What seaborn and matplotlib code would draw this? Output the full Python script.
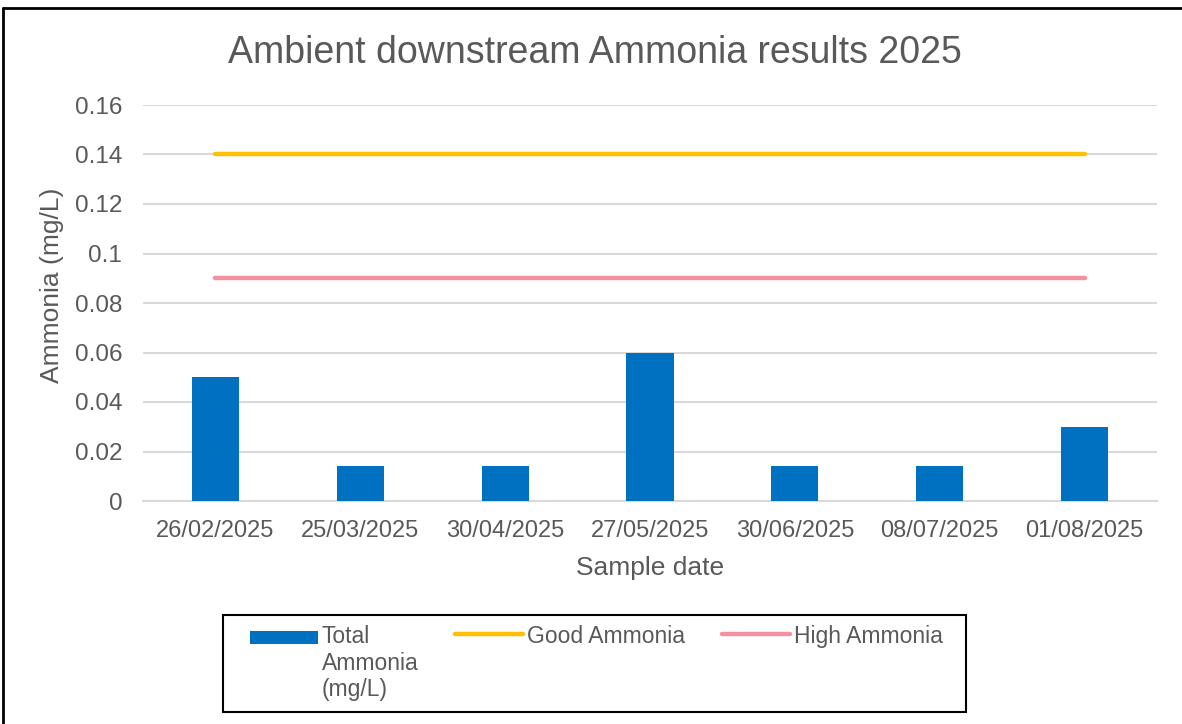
import numpy as np
import pandas as pd
import matplotlib
matplotlib.use("Agg")
import matplotlib.pyplot as plt
import seaborn as sns
from matplotlib.lines import Line2D
from matplotlib.patches import Patch, Rectangle
from matplotlib.legend_handler import HandlerPatch

# ---- data ----
dates = ["26/02/2025", "25/03/2025", "30/04/2025", "27/05/2025",
         "30/06/2025", "08/07/2025", "01/08/2025"]
total_ammonia = [0.05, 0.014, 0.014, 0.06, 0.014, 0.014, 0.03]
good_ammonia = [0.14, 0.14, 0.14, 0.14, 0.14, 0.14, 0.14]
high_ammonia = [0.09, 0.09, 0.09, 0.09, 0.09, 0.09, 0.09]
y_ticks = [0, 0.02, 0.04, 0.06, 0.08, 0.1, 0.12, 0.14, 0.16]
y_tick_labels = ["0", "0.02", "0.04", "0.06", "0.08", "0.1", "0.12", "0.14", "0.16"]

title = "Ambient downstream Ammonia results 2025"
xlabel = "Sample date"
ylabel = "Ammonia (mg/L)"
legend_labels = ["Total\nAmmonia\n(mg/L)", "Good Ammonia", "High Ammonia"]

df = pd.DataFrame({"date": dates, "total": total_ammonia,
                   "good": good_ammonia, "high": high_ammonia})

sns.set_theme(style="white")
plt.rcParams["font.family"] = ["Liberation Sans", "DejaVu Sans"]

TXT = "#595959"
GRID = "#d9d9d9"
BAR = "#0070c0"
GOOD = "#ffc000"
HIGH = "#f4909f"

fig = plt.figure(figsize=(11.82, 7.24), dpi=100)
W, H = 1182, 724
ax = fig.add_axes([143 / W, 1 - 501 / H, (1157 - 143) / W, (501 - 105) / H])

sns.barplot(data=df, x="date", y="total", color=BAR, width=0.325,
            saturation=1, ax=ax, zorder=3, linewidth=0)
sns.lineplot(x=np.arange(len(dates)), y=df["good"], color=GOOD, linewidth=3.2,
             ax=ax, zorder=4, solid_capstyle="round")
sns.lineplot(x=np.arange(len(dates)), y=df["high"], color=HIGH, linewidth=3.2,
             ax=ax, zorder=4, solid_capstyle="round")

ax.set_xlim(-0.5, len(dates) - 0.5)
ax.set_ylim(0, 0.16)
ax.set_yticks(y_ticks)
ax.set_yticklabels(y_tick_labels)
ax.yaxis.grid(True, color=GRID, linewidth=1.5, zorder=0)
ax.set_axisbelow(True)
for s in ["top", "right", "left"]:
    ax.spines[s].set_visible(False)
ax.spines["bottom"].set_color(GRID)
ax.spines["bottom"].set_linewidth(1.5)
ax.spines["bottom"].set_zorder(2)

ax.tick_params(axis="x", which="major", length=0, pad=14, labelsize=17, labelcolor=TXT)
ax.tick_params(axis="y", which="major", length=0, pad=15, labelsize=17.5, labelcolor=TXT)
ax.set_xticks(np.arange(-0.5, len(dates), 1.0), minor=True)
ax.tick_params(axis="x", which="minor", length=7, width=1.5, color=GRID)

ax.set_xlabel(xlabel, fontsize=19, color=TXT)
ax.set_ylabel(ylabel, fontsize=19, color=TXT)
ax.xaxis.set_label_coords(0.5, -(568 - 501) / (501 - 105))
ax.yaxis.set_label_coords(-(143 - 52) / (1157 - 143), (501 - 285) / (501 - 105))
ax.xaxis.label.set_va("center")
ax.yaxis.label.set_va("center")
fig.text(595 / W, 1 - 53 / H, title, fontsize=27, color=TXT, ha="center", va="center")

# legend frame
fig.add_artist(Rectangle((223 / W, 1 - 712 / H), (966 - 223) / W, (712 - 615) / H,
                         transform=fig.transFigure, facecolor="white",
                         edgecolor="black", linewidth=1.5, zorder=1))


def small_rect(legend, orig_handle, xdescent, ydescent, width, height, fontsize):
    return Rectangle((-xdescent, -ydescent + height * 0.15), width, height * 0.6)


handles = [Patch(facecolor=BAR, edgecolor="none"),
           Line2D([0], [0], color=GOOD, linewidth=3.2, solid_capstyle="round"),
           Line2D([0], [0], color=HIGH, linewidth=3.2, solid_capstyle="round")]
leg = fig.legend(handles, legend_labels, ncol=3, loc="upper left",
                 bbox_to_anchor=(250 / W, 1 - 625 / H),
                 frameon=False, fontsize=16.5,
                 handlelength=2.95, handleheight=1.1, handletextpad=0.17,
                 columnspacing=1.62, borderpad=0, borderaxespad=0,
                 labelcolor=TXT, labelspacing=0.3,
                 handler_map={Patch: HandlerPatch(patch_func=small_rect)})
leg.set_zorder(2)
leg._legend_handle_box.align = "top"
for col in leg._legend_handle_box.get_children():
    col.align = "left"
    for item in col.get_children():
        item.align = "top"
for t in leg.get_texts():
    t.set_linespacing(1.2)

# outer chart border (cut off at right / bottom)
fig.add_artist(Line2D([3 / W, 3 / W], [0, 1 - 8 / H], color="black", linewidth=2,
                      transform=fig.transFigure))
fig.add_artist(Line2D([3 / W, 1.01], [1 - 8 / H, 1 - 8 / H], color="black", linewidth=2,
                      transform=fig.transFigure))

fig.savefig("out.png", dpi=100, facecolor="white")
